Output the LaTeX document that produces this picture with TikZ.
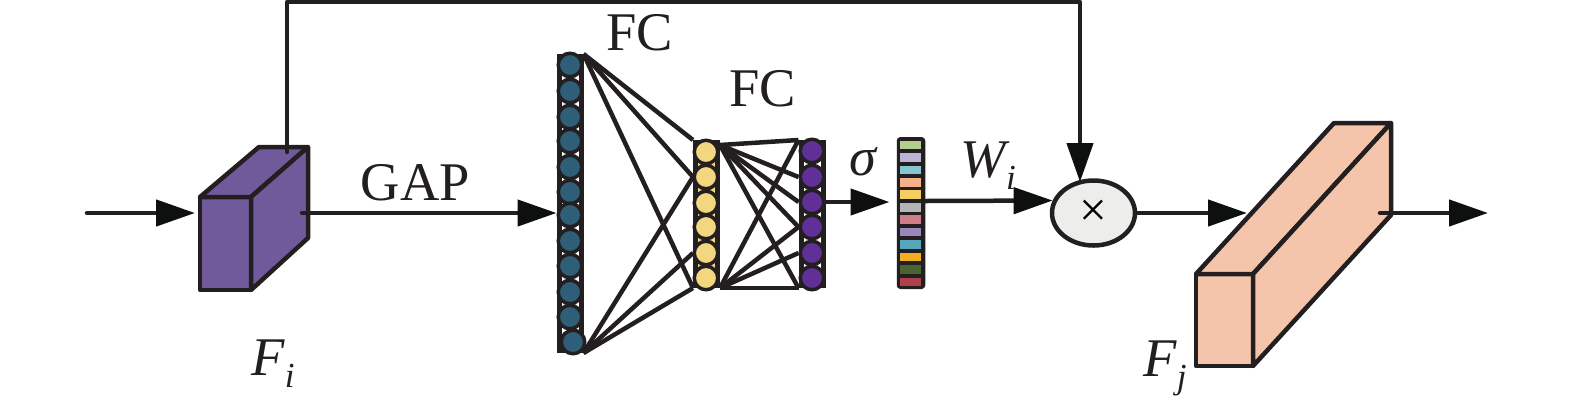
\documentclass[tikz,border=0pt]{standalone}
\usepackage{fontspec}
\setmainfont{Liberation Serif}
\usepackage{tikz}
\usetikzlibrary{arrows.meta,shapes.geometric,backgrounds}
\definecolor{ink}{RGB}{35,31,32}
\definecolor{tipink}{RGB}{14,16,15}
\definecolor{violet}{RGB}{113,90,156}
\definecolor{peach}{RGB}{244,197,170}
\definecolor{teal}{RGB}{47,95,120}
\definecolor{straw}{RGB}{243,214,128}
\definecolor{plum}{RGB}{96,48,150}
\definecolor{mist}{RGB}{237,237,235}
\newcommand{\subvar}[2]{{\itshape #1\raisebox{-0.12cm}{\fontsize{10}{10}\selectfont #2}}}
\tikzset{
  edge/.style={ink, line width=0.045cm, line join=round, line cap=round},
  flow/.style={edge, -{Triangle[length=0.39cm, width=0.26cm, color=tipink]}},
  link/.style={ink, line width=0.045cm},
  prism/.style={draw=ink, line width=0.045cm, line join=round},
  column/.style={draw=ink, line width=0.05cm, inner sep=0pt, minimum width=0.22cm},
  neuron/.style={circle, draw=ink, line width=0.035cm, inner sep=0pt, minimum size=0.235cm},
  label/.style={font=\fontsize{15.5}{15.5}\selectfont, text=ink, inner sep=0pt, anchor=base west},
}

\begin{document}
\begin{tikzpicture}
  \useasboundingbox (0,0) rectangle (15.75,4.06);
  % free ends of the connectors
  \coordinate (in) at (0.87,1.93);
  \coordinate (fiin) at (1.95,1.93);
  \coordinate (fiout) at (3.02,1.93);
  \coordinate (fitop) at (2.87,2.54);
  \coordinate (turna) at (2.87,4.04);
  \coordinate (turnb) at (10.80,4.04);
  \coordinate (multop) at (10.80,2.24);
  \coordinate (fjin) at (12.47,1.93);
  \coordinate (fjout) at (13.80,1.93);
  \coordinate (out) at (14.88,1.93);
  % columns
  \node[column, fill=white, minimum height=2.94cm] (lcol) at (5.70,2.025) {};
  \node[column, fill=straw, minimum height=1.43cm] (mcol) at (7.065,1.92) {};
  \node[column, fill=white, minimum height=1.43cm] (rcol) at (8.12,1.92) {};
  \foreach \y [count=\i] in {3.41,3.15,2.89,2.65,2.39,2.14,1.91,1.65,1.40,1.14,0.89}
    \node[neuron, fill=teal] (l\i) at (5.70,\y) {};
  \node[neuron, fill=teal] (l12) at (5.73,0.64) {};
  \foreach \y [count=\i] in {2.54,2.29,2.03,1.79,1.53,1.28}
    \node[neuron, fill=straw] (m\i) at (7.06,\y) {};
  \foreach \y [count=\i] in {2.55,2.29,2.04,1.79,1.53,1.28}
    \node[neuron, fill=plum] (r\i) at (8.12,\y) {};
  % links between the columns
  \begin{pgfonlayer}{background}
    \draw[link] (lcol.north east) -- (mcol.north west);
    \draw[link] (lcol.north east) -- (mcol.west |- m2);
    \draw[link] (lcol.north east) -- (mcol.south west);
    \draw[link] (lcol.south east) -- (mcol.west |- m2);
    \draw[link] (lcol.south east) -- (mcol.west |- m5);
    \draw[link] (lcol.south east) -- (mcol.south west);
    \draw[link] ([yshift=-0.05cm]mcol.north east) -- (rcol.north west);
    \draw[link] ([yshift=-0.05cm]mcol.north east) -- (rcol.west |- r2);
    \draw[link] ([yshift=-0.05cm]mcol.north east) -- (rcol.west |- r3);
    \draw[link] ([yshift=-0.05cm]mcol.north east) -- (rcol.west |- r4);
    \draw[link] ([yshift=-0.05cm]mcol.north east) -- (rcol.south west);
    \draw[link] (mcol.south east) -- (rcol.north west);
    \draw[link] (mcol.south east) -- (rcol.west |- r4);
    \draw[link] (mcol.south east) -- (rcol.west |- r5);
    \draw[link] (mcol.south east) -- (rcol.south west);
  \end{pgfonlayer}
  % weight bar
  \node[draw=ink, fill=ink, line width=0.04cm, rounded corners=0.02cm, inner sep=0pt, minimum width=0.245cm, minimum height=1.48cm] (bar) at (9.11,1.93) {};
  \foreach \r/\g/\b [count=\i] in {179/207/143, 189/179/213, 133/197/208, 243/176/138, 243/207/96, 181/181/181, 206/124/136, 154/136/186, 85/165/189, 242/174/34, 74/99/48, 174/64/73} {
    \definecolor{cellc}{RGB}{\r,\g,\b}
    \fill[cellc] (9.00,{2.654-0.1245*(\i-1)}) rectangle (9.21,{2.567-0.1245*(\i-1)});
  }
  % cuboids
  \draw[prism, fill=violet] (2.00,1.16) rectangle (2.51,2.09);
  \draw[prism, fill=violet] (2.00,2.09) -- (2.59,2.59) -- (3.08,2.59) -- (2.51,2.09) -- cycle;
  \draw[prism, fill=violet] (2.51,2.09) -- (3.08,2.59) -- (3.08,1.68) -- (2.51,1.16) -- cycle;
  \draw[prism, fill=peach] (11.96,0.40) rectangle (12.53,1.32);
  \draw[prism, fill=peach] (11.96,1.32) -- (13.34,2.83) -- (13.91,2.83) -- (12.53,1.32) -- cycle;
  \draw[prism, fill=peach] (12.53,1.32) -- (13.91,2.83) -- (13.91,1.91) -- (12.53,0.40) -- cycle;
  % product
  \node[ellipse, draw=ink, fill=mist, line width=0.045cm, inner sep=0pt, minimum width=0.83cm, minimum height=0.65cm, font=\fontsize{14}{14}\selectfont] (mul) at (10.935,1.93) {×};
  % connectors
  \draw[flow] (in) -- (fiin);
  \draw[flow] (fiout) -- (lcol.west |- fiout);
  \draw[flow] (fitop) -- (turna) -- (turnb) -- (multop);
  \draw[flow] (rcol.east |- r3) -- ++(0.64,0);
  \draw[flow] (bar.east |- 0,2.05) -- (mul.163);
  \draw[flow] (mul.east) -- (fjin);
  \draw[flow] (fjout) -- (out);
  % labels
  \node[label] (gap) at (3.60,2.06) {GAP};
  \node[label] (fca) at (6.06,3.56) {FC};
  \node[label] (fcb) at (7.29,3.00) {FC};
  \node[label] (sig) at (8.49,2.31) {\itshape σ};
  \node[label] (wi) at (9.60,2.29) {\subvar{W}{i}};
  \node[label] (fi) at (2.51,0.31) {\subvar{F}{i}};
  \node[label] (fj) at (11.43,0.30) {\subvar{F}{j}};
\end{tikzpicture}
\end{document}
